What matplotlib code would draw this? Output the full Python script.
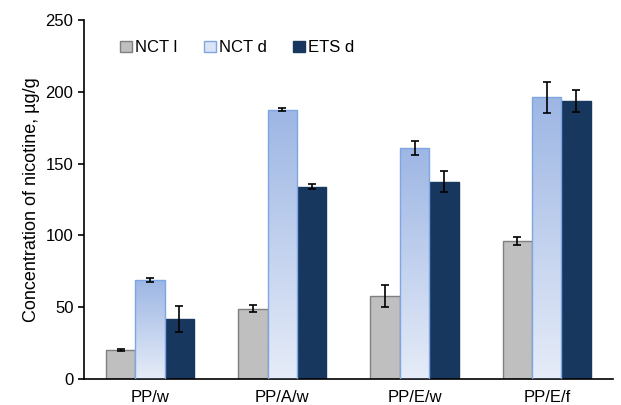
import numpy as np
import matplotlib.pyplot as plt
from matplotlib.colors import LinearSegmentedColormap
from matplotlib.patches import Patch

plt.rcParams['font.family'] = ['Liberation Sans', 'DejaVu Sans']

# nicotine concentration per sample type
samples = ['PP/w', 'PP/A/w', 'PP/E/w', 'PP/E/f']
nct_l = [20, 49, 58, 96]
nct_l_err = [0.8, 2.5, 7.5, 2.8]
nct_d = [69, 187.5, 161, 196]
nct_d_err = [1.2, 1.2, 5, 10.5]
ets_d = [42, 134, 137.5, 193.5]
ets_d_err = [9, 1.8, 7.5, 7.5]

fig, ax = plt.subplots(figsize=(6.21, 4.05), dpi=100)
fig.subplots_adjust(left=0.135, right=0.987, bottom=0.064, top=0.951)

x = np.arange(len(samples))
w = 0.222
ekw = dict(ecolor='black', elinewidth=1.2, capsize=3, capthick=1.2)

b1 = ax.bar(x - w, nct_l, w, yerr=nct_l_err, color='#bfbfbf', edgecolor='#7f7f7f',
            linewidth=1, error_kw=ekw, zorder=2)
b2 = ax.bar(x, nct_d, w, yerr=nct_d_err, color='none', edgecolor='#7da6e3',
            linewidth=1, error_kw=ekw, zorder=3)
b3 = ax.bar(x + w, ets_d, w, yerr=ets_d_err, color='#17375e', edgecolor='#17375e',
            linewidth=1, error_kw=ekw, zorder=2)

# vertical gradient fill for the NCT d bars
grad = LinearSegmentedColormap.from_list('nctd', ['#e6ecf8', '#9db6e4'])
for rect in b2.patches:
    x0, y0 = rect.get_x(), rect.get_y()
    h = rect.get_height()
    im = ax.imshow(np.linspace(0, 1, 256).reshape(-1, 1), cmap=grad, origin='lower',
                   extent=[x0, x0 + rect.get_width(), y0, y0 + h], aspect='auto',
                   zorder=2.5, vmin=0, vmax=1)
    im.set_clip_path(rect)

ax.set_xlim(-0.5, len(samples) - 0.5)
ax.set_ylim(0, 250)
ax.set_yticks(range(0, 251, 50))
ax.set_xticks(x)
ax.set_xticklabels(samples, fontsize=12)
ax.tick_params(axis='y', labelsize=12, length=4, width=1.2, direction='out')
ax.tick_params(axis='x', length=0, pad=8)
ax.set_ylabel('Concentration of nicotine, µg/g', fontsize=13)

for s in ['top', 'right']:
    ax.spines[s].set_visible(False)
for s in ['left', 'bottom']:
    ax.spines[s].set_linewidth(1.2)

handles = [
    Patch(facecolor='#bfbfbf', edgecolor='#7f7f7f'),
    Patch(facecolor='#dbe4f5', edgecolor='#7da6e3'),
    Patch(facecolor='#17375e', edgecolor='#17375e'),
]
ax.legend(handles, ['NCT l', 'NCT d', 'ETS d'], loc='upper left',
          bbox_to_anchor=(0.04, 0.985), ncol=3, frameon=False,
          fontsize=12, handlelength=0.7, handleheight=0.7, handletextpad=0.2,
          columnspacing=1.6)

plt.savefig('out.png')
